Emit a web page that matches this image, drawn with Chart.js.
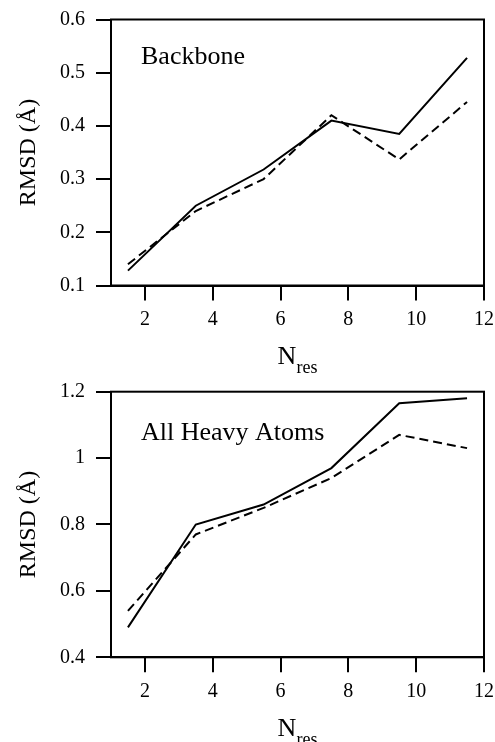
<!DOCTYPE html>
<html>
<head>
<meta charset="utf-8">
<script src="https://cdn.jsdelivr.net/npm/chart.js@4.4.1/dist/chart.umd.min.js"></script>
<style>
  html, body { margin: 0; padding: 0; background: #fff; }
  #wrap { position: relative; width: 495px; height: 742px; overflow: hidden; }
  #top-wrap { position: absolute; left: 0; top: 0; width: 495px; height: 380px; }
  #bottom-wrap { position: absolute; left: 0; top: 371px; width: 495px; height: 371px; }
</style>
</head>
<body>
<div id="wrap">
  <div id="top-wrap"><canvas id="top-chart"></canvas></div>
  <div id="bottom-wrap"><canvas id="bottom-chart"></canvas></div>
</div>
<script>
// data
const nRes = [1.5, 3.5, 5.5, 7.5, 9.5, 11.5];
const xTicks = [2, 4, 6, 8, 10, 12];

const backboneSolid  = [0.128, 0.250, 0.318, 0.410, 0.385, 0.528];
const backboneDashed = [0.140, 0.240, 0.300, 0.420, 0.337, 0.445];
const backboneYTicks = [0.1, 0.2, 0.3, 0.4, 0.5, 0.6];

const heavySolid  = [0.49, 0.80, 0.86, 0.97, 1.165, 1.18];
const heavyDashed = [0.54, 0.77, 0.85, 0.94, 1.07, 1.03];
const heavyYTicks = [0.4, 0.6, 0.8, 1, 1.2];

const SERIF = '"Liberation Serif", "Times New Roman", serif';

// box around the plot, inner label and the N_res axis title
const framePlugin = {
  id: 'frameAndLabels',
  afterDraw(chart, args, opts) {
    const { ctx, chartArea: a } = chart;
    ctx.save();
    ctx.strokeStyle = '#000';
    ctx.lineWidth = 2;
    ctx.strokeRect(a.left, a.top, a.right - a.left, a.bottom - a.top);

    ctx.fillStyle = '#000';
    ctx.textBaseline = 'alphabetic';
    ctx.textAlign = 'left';
    ctx.font = '26px ' + SERIF;
    ctx.fillText(opts.label, a.left + 30, a.top + opts.labelDy);

    // N with subscript res, centred under the plot
    const nW = ctx.measureText('N').width;
    ctx.font = '18px ' + SERIF;
    const subW = ctx.measureText('res').width;
    const x0 = (a.left + a.right) / 2 - (nW + subW) / 2;
    const base = a.bottom + 78.5;
    ctx.font = '26px ' + SERIF;
    ctx.fillText('N', x0, base);
    ctx.font = '18px ' + SERIF;
    ctx.fillText('res', x0 + nW, base + 9);
    ctx.restore();
  }
};

function makeChart(id, solid, dashed, yTicks, label, labelDy, padTop, xHeight) {
  const ctx = document.getElementById(id).getContext('2d');
  return new Chart(ctx, {
    type: 'line',
    data: {
      datasets: [
        {
          data: nRes.map((x, i) => ({ x, y: solid[i] })),
          borderColor: '#000', borderWidth: 2, pointRadius: 0, tension: 0, fill: false
        },
        {
          data: nRes.map((x, i) => ({ x, y: dashed[i] })),
          borderColor: '#000', borderWidth: 2, borderDash: [9, 5], pointRadius: 0, tension: 0, fill: false
        }
      ]
    },
    options: {
      responsive: true,
      maintainAspectRatio: false,
      animation: false,
      layout: { padding: { top: padTop, right: 11, left: 0, bottom: 0 } },
      plugins: {
        legend: { display: false },
        tooltip: { enabled: false },
        frameAndLabels: { label, labelDy }
      },
      scales: {
        x: {
          type: 'linear',
          min: 1, max: 12,
          afterBuildTicks: s => { s.ticks = xTicks.map(v => ({ value: v })); },
          afterFit: s => { s.height = xHeight; s.paddingLeft = 0; s.paddingRight = 0; },
          grid: { drawOnChartArea: false, drawTicks: true, tickLength: 15, color: '#000', lineWidth: 2 },
          border: { display: true, color: '#000', width: 2 },
          ticks: { color: '#000', padding: 7, maxRotation: 0, font: { family: SERIF, size: 20 }, callback: v => String(v) }
        },
        y: {
          type: 'linear',
          min: yTicks[0], max: yTicks[yTicks.length - 1],
          afterBuildTicks: s => { s.ticks = yTicks.map(v => ({ value: v })); },
          afterFit: s => { s.width = 111; s.paddingTop = 0; s.paddingBottom = 0; },
          grid: { drawOnChartArea: false, drawTicks: true, tickLength: 15, color: '#000', lineWidth: 2 },
          border: { display: true, color: '#000', width: 2 },
          ticks: { color: '#000', padding: 11, font: { family: SERIF, size: 20 }, callback: v => String(v) },
          title: { display: true, text: 'RMSD (Å)', color: '#000', padding: { top: 14, bottom: 0 }, font: { family: SERIF, size: 24 } }
        }
      }
    },
    plugins: [framePlugin]
  });
}

makeChart('top-chart', backboneSolid, backboneDashed, backboneYTicks, 'Backbone', 44.5, 19.5, 94.5);
makeChart('bottom-chart', heavySolid, heavyDashed, heavyYTicks, 'All Heavy Atoms', 48.5, 20.7, 84.7);
</script>
</body>
</html>
